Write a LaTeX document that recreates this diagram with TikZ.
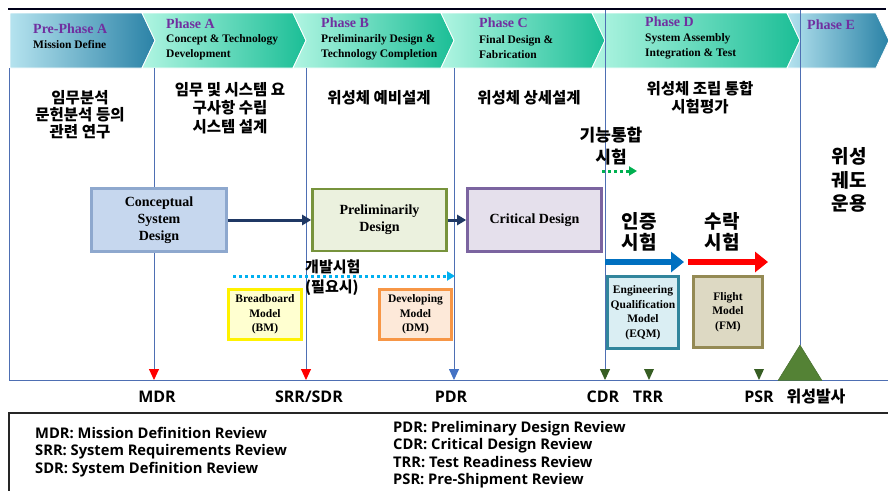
\documentclass[tikz,border=0pt]{standalone}
\usepackage{fontspec}
\setmainfont{Liberation Serif}
\newfontfamily\kr{Noto Sans CJK KR}
\newfontfamily\lab{Open Sans}
\usetikzlibrary{arrows.meta,positioning}

\definecolor{phasepurple}{HTML}{7030A0}
\definecolor{gridblue}{HTML}{4E6FB3}
\definecolor{navyarrow}{HTML}{1F3864}
\definecolor{mintL}{HTML}{B0F5E2}
\definecolor{mintR}{HTML}{1BBE96}
\definecolor{skyL}{HTML}{B5E3EF}
\definecolor{skyR}{HTML}{2A82A6}
\definecolor{msgreen}{HTML}{375E23}
\definecolor{launchgreen}{HTML}{548235}
\definecolor{conceptfill}{HTML}{C6D7EE}
\definecolor{conceptline}{HTML}{8EA8CE}
\definecolor{prelimfill}{HTML}{EBF1DE}
\definecolor{prelimline}{HTML}{77933C}
\definecolor{critfill}{HTML}{E5E0EC}
\definecolor{critline}{HTML}{7B64A0}
\definecolor{bmfill}{HTML}{FFFFD0}
\definecolor{dmfill}{HTML}{FDE9D9}
\definecolor{dmline}{HTML}{F79646}
\definecolor{eqmfill}{HTML}{DAEEF3}
\definecolor{eqmline}{HTML}{31859C}
\definecolor{fmfill}{HTML}{DDD9C3}
\definecolor{fmline}{HTML}{948A54}
\definecolor{devcyan}{HTML}{00B0F0}
\definecolor{funcgreen}{HTML}{00B050}
\definecolor{qualblue}{HTML}{0070C0}
\definecolor{pdrblue}{HTML}{4472C4}

\begin{document}
\begin{tikzpicture}[x=1pt,y=-1pt,
    chev/.style={draw=white,line width=0.8pt},
    gridline/.style={draw=gridblue,line width=0.9pt},
    box/.style={draw,line width=2.6pt,align=center,inner sep=0pt,
      font=\bfseries\fontsize{14}{17}\selectfont},
    model/.style={draw,line width=2.4pt,align=center,inner sep=0pt,
      font=\bfseries\fontsize{11.5}{14.5}\selectfont},
    ktext/.style={align=center,font=\kr\bfseries\fontsize{15.5}{18}\selectfont},
    kbig/.style={align=center,font=\kr\bfseries\fontsize{19}{21}\selectfont},
    mslabel/.style={font=\lab\bfseries\fontsize{16}{18}\selectfont},
    legend/.style={anchor=base west,inner sep=0pt,font=\lab\bfseries\fontsize{14.7}{16}\selectfont},
    ptitle/.style={anchor=west,inner sep=0pt,text=phasepurple,font=\bfseries\fontsize{14}{16}\selectfont},
    psub/.style={anchor=west,align=left,inner sep=0pt,font=\bfseries\fontsize{11.5}{15}\selectfont},
    flow/.style={draw=navyarrow,line width=3pt,-{Triangle[length=9pt,width=10pt]}},
  ]
  \useasboundingbox (0,0) rectangle (888,490);

  % top rule and phase chevrons
  \draw[line width=2.5pt,color=black!90!blue] (8,9) -- (886,9);
  \shadedraw[chev,left color=skyL,right color=skyR] (10,13) -- (142,13) -- (155,40.5) -- (142,68) -- (10,68) -- cycle;
  \shadedraw[chev,left color=mintL,right color=mintR] (142,13) -- (293,13) -- (306,40.5) -- (293,68) -- (142,68) -- (155,40.5) -- cycle;
  \shadedraw[chev,left color=mintL,right color=mintR] (293,13) -- (441,13) -- (454,40.5) -- (441,68) -- (293,68) -- (306,40.5) -- cycle;
  \shadedraw[chev,left color=mintL,right color=mintR] (441,13) -- (592,13) -- (605,40.5) -- (592,68) -- (441,68) -- (454,40.5) -- cycle;
  \shadedraw[chev,left color=mintL,right color=mintR] (592,13) -- (787,13) -- (800,40.5) -- (787,68) -- (592,68) -- (605,40.5) -- cycle;
  \shadedraw[chev,left color=skyL,right color=skyR] (787,13) -- (876,13) -- (889,40.5) -- (876,68) -- (787,68) -- (800,40.5) -- cycle;

  \node[ptitle] (preA-title) at (33,29) {Pre-Phase A};
  \node[psub] (preA-sub) at (33,45) {Mission Define};
  \node[ptitle] (A-title) at (166,24) {Phase A};
  \node[psub] (A-sub) at (166,47.5) {Concept \& Technology\\Development};
  \node[ptitle] (B-title) at (321,23) {Phase B};
  \node[psub] (B-sub) at (321,47) {Preliminarily Design \&\\Technology Completion};
  \node[ptitle] (C-title) at (479,22.5) {Phase C};
  \node[psub] (C-sub) at (479,47.5) {Final Design \&\\Fabrication};
  \node[ptitle] (D-title) at (645,22) {Phase D};
  \node[psub] (D-sub) at (645,46) {System Assembly\\Integration \& Test};
  \node[ptitle] (E-title) at (807,25) {Phase E};

  % frame and phase lines with review markers
  \draw[gridline] (9,68) -- (9,380) -- (888,380);
  \draw[gridline,-{Triangle[length=11pt,width=10pt,color=red]}] (154,68) -- (154,380);
  \draw[gridline,-{Triangle[length=11pt,width=10pt,color=red]}] (306,68) -- (306,380);
  \draw[gridline,-{Triangle[length=11pt,width=10pt,color=pdrblue]}] (454,68) -- (454,380);
  \draw[gridline,-{Triangle[length=11pt,width=10pt,color=msgreen]}] (605,10) -- (605,380);
  \draw[gridline] (800,10) -- (800,345);
  \fill[msgreen] (644,369) -- (654,369) -- (649,380) -- cycle;
  \fill[msgreen] (754,369) -- (764,369) -- (759,380) -- cycle;
  \filldraw[fill=launchgreen,draw=launchgreen!80!black] (800,345) -- (822,380.5) -- (778,380.5) -- cycle;

  % phase descriptions
  \node[ktext,font=\kr\bfseries\fontsize{15.5}{17}\selectfont] (preA-text) at (80,115) {임무분석\\문헌분석 등의\\관련 연구};
  \node[ktext,font=\kr\bfseries\fontsize{15.5}{18.5}\selectfont] (A-text) at (230,108) {임무 및 시스템 요\\구사항 수립\\시스템 설계};
  \node[ktext] (B-text) at (379,98) {위성체 예비설계};
  \node[ktext] (C-text) at (529,98) {위성체 상세설계};
  \node[ktext] (D-text) at (700,98) {위성체 조립 통합\\시험평가};
  \node[kbig,font=\kr\bfseries\fontsize{19}{23.5}\selectfont] (E-text) at (849,180) {위성\\궤도\\운용};

  % design boxes
  \node[box,fill=conceptfill,draw=conceptline,minimum width=135pt,minimum height=63pt] (concept) at (159,220) {Conceptual\\System\\Design};
  \node[box,fill=prelimfill,draw=prelimline,minimum width=134pt,minimum height=62pt] (prelim) at (379.5,220) {Preliminarily\\Design};
  \node[box,fill=critfill,draw=critline,minimum width=134pt,minimum height=63pt] (critical) at (534.5,220) {Critical Design};
  \draw[flow] (concept) -- (prelim);
  \draw[flow] (prelim) -- (critical);

  % models and tests
  \node[model,fill=bmfill,draw=yellow,minimum width=73pt,minimum height=50pt] (bm) at (265,314.5) {Breadboard\\Model\\(BM)};
  \node[model,fill=dmfill,draw=dmline,minimum width=72pt,minimum height=50pt] (dm) at (415.5,314.5) {Developing\\Model\\(DM)};
  \node[model,fill=eqmfill,draw=eqmline,minimum width=71pt,minimum height=72pt] (eqm) at (643,312.5) {Engineering\\Qualification\\Model\\(EQM)};
  \node[model,fill=fmfill,draw=fmline,minimum width=69pt,minimum height=71pt] (fm) at (728,312) {Flight\\Model\\(FM)};

  \coordinate (dev-s) at (233,276);
  \coordinate (dev-e) at (455,276);
  \draw[devcyan,line width=3pt,dash pattern=on 3pt off 3pt,-{Triangle[length=8pt,width=9pt]}] (dev-s) -- (dev-e);
  \node[ktext,align=left,anchor=west,inner sep=0pt,font=\kr\bfseries\fontsize{15}{20}\selectfont] (dev-text) at (305,278) {개발시험\\(필요시)};

  \coordinate (func-s) at (602,171);
  \coordinate (func-e) at (637,171);
  \draw[funcgreen,line width=3pt,dash pattern=on 3pt off 3pt,-{Triangle[length=8pt,width=9pt]}] (func-s) -- (func-e);
  \node[ktext,font=\kr\bfseries\fontsize{17}{22}\selectfont] (func-text) at (611,146) {기능통합\\시험};

  \coordinate (qual-s) at (605,262);
  \coordinate (qual-e) at (684,262);
  \draw[qualblue,line width=6pt,-{Triangle[length=13pt,width=20pt]}] (qual-s) -- (qual-e);
  \node[kbig] (qual-text) at (639,232) {인증\\시험};
  \coordinate (acc-s) at (688,262);
  \coordinate (acc-e) at (768,262);
  \draw[red,line width=6pt,-{Triangle[length=13pt,width=20pt]}] (acc-s) -- (acc-e);
  \node[kbig] (acc-text) at (722,232) {수락\\시험};

  % review labels
  \node[mslabel] (mdr) at (157,397) {MDR};
  \node[mslabel] (srr) at (309,397) {SRR/SDR};
  \node[mslabel] (pdr) at (451,397) {PDR};
  \node[mslabel] (cdr) at (603,397) {CDR};
  \node[mslabel] (trr) at (648,397) {TRR};
  \node[mslabel] (psr) at (759,397) {PSR};
  \node[font=\kr\bfseries\fontsize{16}{18}\selectfont] (launch) at (816,397) {위성발사};

  % legend
  \draw[line width=2pt,color=black!85] (9,413) rectangle (895,496);
  \node[legend] (leg-mdr) at (35,438) {MDR: Mission Definition Review};
  \node[legend] (leg-srr) at (35,455.5) {SRR: System Requirements Review};
  \node[legend] (leg-sdr) at (35,473) {SDR: System Definition Review};
  \node[legend] (leg-pdr) at (393,432) {PDR: Preliminary Design Review};
  \node[legend] (leg-cdr) at (393,449.5) {CDR: Critical Design Review};
  \node[legend] (leg-trr) at (393,467) {TRR: Test Readiness Review};
  \node[legend] (leg-psr) at (393,484.5) {PSR: Pre-Shipment Review};
\end{tikzpicture}
\end{document}
